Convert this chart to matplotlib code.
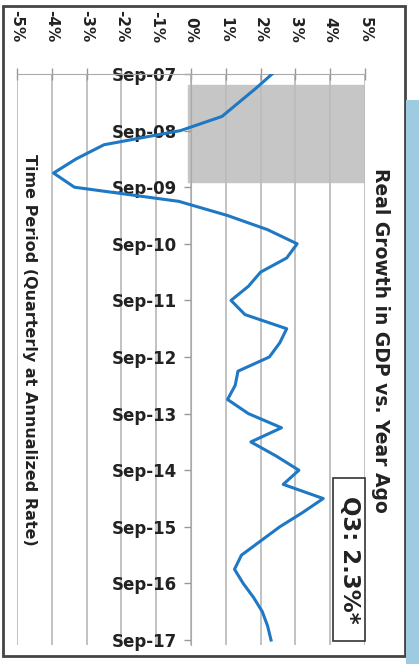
import matplotlib
matplotlib.use("Agg")
import matplotlib.pyplot as plt
from matplotlib.patches import Rectangle

# Year-over-year real GDP growth (%), quarterly, Q3 2007 .. Q3 2017
gdp = [2.33, 1.87, 1.38, 0.89, -0.30, -2.50, -3.30, -3.95, -3.35, -0.35,
       1.05, 2.20, 3.05, 2.75, 2.00, 1.65, 1.15, 1.55, 2.75, 2.55,
       2.25, 1.35, 1.27, 1.05, 1.65, 2.60, 1.72, 2.45, 3.10, 2.65,
       3.80, 3.20, 2.55, 2.00, 1.45, 1.25, 1.50, 1.80, 2.05, 2.20,
       2.30]
tick_labels = ["Sep-07", "Sep-08", "Sep-09", "Sep-10", "Sep-11", "Sep-12",
               "Sep-13", "Sep-14", "Sep-15", "Sep-16", "Sep-17"]
pct_ticks = list(range(-5, 6))
recession = (0.78, 7.63)   # shaded span, in quarters from Sep-07

W, H = 419, 664
fig = plt.figure(figsize=(W / 100, H / 100), dpi=100)
fig.patch.set_facecolor("white")

# chart is laid out turned on its side: value runs left->right, time runs down
ax = fig.add_axes([17 / W, 1 - 645 / H, 348 / W, (645 - 74) / H])
quarters = list(range(len(gdp)))

ax.axhspan(recession[0], recession[1], xmin=0.49, xmax=1.0,
           color="#c6c6c6", zorder=1)
ax.plot(gdp, quarters, color="#1f78c4", lw=2.2, zorder=3,
        solid_joinstyle="round")

ax.set_xlim(-5, 5)
ax.set_ylim(40.35, 0)

# category axis sits on the 0% line (moving the spine resets ticks, so first)
ax.spines["left"].set_position(("data", 0))
ax.spines["left"].set_color("#aaaaaa")
ax.spines["top"].set_color("#aaaaaa")
ax.spines["right"].set_visible(False)
ax.spines["bottom"].set_visible(False)

ax.xaxis.tick_top()
ax.tick_params(axis="x", direction="inout", length=9, width=1.0,
               color="#999999", labelrotation=270, pad=18,
               labelcolor="#222222")
ax.tick_params(axis="y", direction="out", length=5, width=1.0,
               color="#999999", pad=5, labelcolor="#222222")

ax.set_xticks(pct_ticks)
ax.set_xticklabels([f"{p}%" for p in pct_ticks], fontweight="bold",
                   fontsize=11)
ax.set_yticks(list(range(0, 41, 4)))
ax.set_yticklabels(tick_labels, fontweight="bold", fontsize=12)

ax.grid(axis="x", color="#bdbdbd", lw=1.3)
ax.set_facecolor("none")

# callout box for the latest reading
fig.add_artist(Rectangle((333 / W, 1 - 641 / H), 32 / W, 163 / H,
                         transform=fig.transFigure, fc="white",
                         ec="#333333", lw=1.2, zorder=4))
fig.text(349 / W, 1 - 560 / H, f"Q3: {gdp[-1]:.1f}%*", rotation=270,
         ha="center", va="center", fontsize=16.5, fontweight="bold",
         color="#222222", zorder=5)

fig.text(380 / W, 1 - 340 / H, "Real Growth in GDP vs. Year Ago",
         rotation=270, ha="center", va="center", fontsize=13.5,
         fontweight="bold", color="#222222")
fig.text(29 / W, 1 - 350 / H, "Time Period (Quarterly at Annualized Rate)",
         rotation=270, ha="center", va="center", fontsize=11.5,
         fontweight="bold", color="#222222")

# scanned page frame
fig.add_artist(Rectangle((3 / W, 1 - 656 / H), 402 / W, 650 / H,
                         transform=fig.transFigure, fill=False,
                         ec="#444444", lw=2.0))
fig.add_artist(Rectangle((406 / W, 0), 13 / W, 1 - 100 / H,
                         transform=fig.transFigure, fc="#9fcbe0",
                         ec="none"))

fig.savefig("out.png", dpi=100)
